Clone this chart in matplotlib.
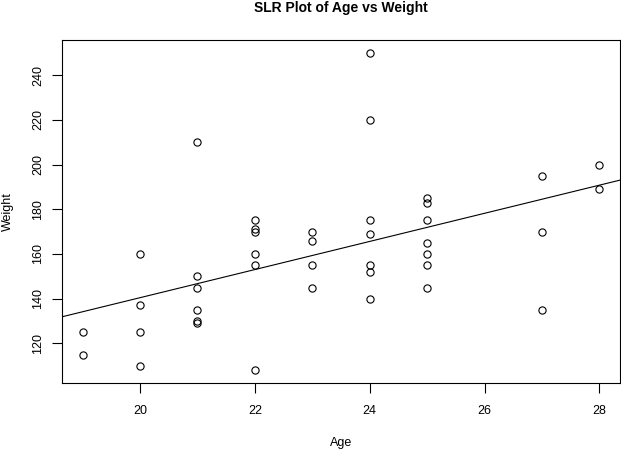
import numpy as np
import matplotlib
matplotlib.use("Agg")
import matplotlib.pyplot as plt

plt.rcParams['font.family'] = ['Liberation Sans', 'DejaVu Sans']

# Age and weight
age = [19, 19,
       20, 20, 20, 20,
       21, 21, 21, 21, 21, 21,
       22, 22, 22, 22, 22, 22,
       23, 23, 23, 23,
       24, 24, 24, 24, 24, 24, 24,
       25, 25, 25, 25, 25, 25, 25,
       27, 27, 27,
       28, 28]
weight = [125, 115,
          160, 137, 125, 110,
          210, 150, 145, 135, 130, 129,
          175, 171, 170, 160, 155, 108,
          170, 166, 155, 145,
          250, 220, 175, 169, 155, 152, 140,
          185, 183, 175, 165, 160, 155, 145,
          195, 170, 135,
          200, 189]

x = np.array(age, dtype=float)
y = np.array(weight, dtype=float)
slope, intercept = np.polyfit(x, y, 1)

fig = plt.figure(figsize=(6.21, 4.49), dpi=100)
ax = fig.add_axes([62/621, 66/449, 558/621, 343/449])

ax.plot(x, y, 'o', mfc='none', mec='black', ms=5.2, mew=0.8)

xr = x.max() - x.min()
yr = y.max() - y.min()
xlo, xhi = x.min() - 0.04*xr, x.max() + 0.04*xr
ylo, yhi = y.min() - 0.04*yr, y.max() + 0.04*yr
ax.set_xlim(xlo, xhi)
ax.set_ylim(ylo, yhi)

xx = np.array([xlo, xhi])
ax.plot(xx, intercept + slope*xx, color='black', lw=0.8)

ax.set_xticks([20, 22, 24, 26, 28])
ax.set_yticks([120, 140, 160, 180, 200, 220, 240])
ax.tick_params(direction='out', length=7, width=0.8, labelsize=9)
ax.tick_params(axis='x', pad=9)
ax.tick_params(axis='y', pad=6)
for lab in ax.get_yticklabels():
    lab.set_rotation(90)
    lab.set_va('center')
for s in ax.spines.values():
    s.set_linewidth(0.8)

ax.set_xlabel("Age", fontsize=9, labelpad=14)
ax.set_ylabel("Weight", fontsize=9, va='center')
ax.yaxis.set_label_coords((8 - 62)/558, 0.5)
fig.suptitle("SLR Plot of Age vs Weight", fontsize=10, fontweight='bold', x=341/621, y=1-8/449, va='center')

fig.savefig("out.png", dpi=100)
